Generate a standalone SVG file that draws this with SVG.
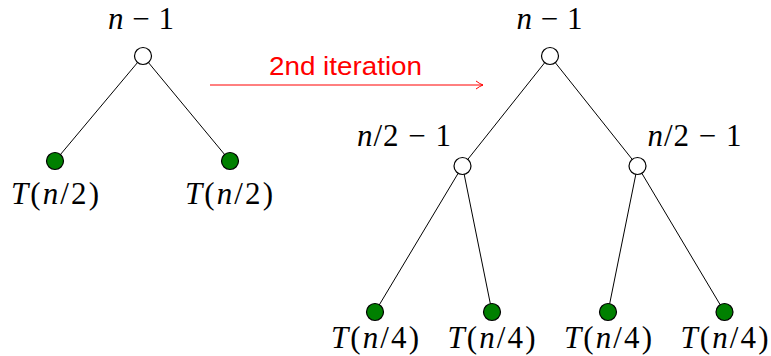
<svg xmlns="http://www.w3.org/2000/svg" width="771" height="356" viewBox="0 0 771 356">
<defs>
<style>
.edge{stroke:#000;stroke-width:1;fill:none}
.inner{fill:#fff;stroke:#000;stroke-width:1.2}
.leaf{fill:#008000;stroke:#000;stroke-width:1.2}
.lbl{font-family:'Liberation Serif',serif;font-size:31px;fill:#000;text-anchor:middle}
.it{font-style:italic}
.red{font-family:'Liberation Sans',sans-serif;font-size:25px;fill:#ff0000;text-anchor:middle}
</style>
<marker id="arr" viewBox="0 0 10 10" refX="9" refY="5" markerWidth="10" markerHeight="10" markerUnits="userSpaceOnUse" orient="auto">
<path d="M2,1 Q6,4 9,5 Q6,6 2,9" fill="none" stroke="#ff0000" stroke-width="1"/>
</marker>
</defs>
<g id="connectors">
<line class="edge" x1="143" y1="56" x2="55" y2="161"/>
<line class="edge" x1="143" y1="56" x2="230" y2="161"/>
<line class="edge" x1="550" y1="56" x2="462.5" y2="166"/>
<line class="edge" x1="550" y1="56" x2="637.5" y2="166"/>
<line class="edge" x1="462.5" y1="166" x2="375" y2="312"/>
<line class="edge" x1="462.5" y1="166" x2="492" y2="312"/>
<line class="edge" x1="637.5" y1="166" x2="608" y2="312"/>
<line class="edge" x1="637.5" y1="166" x2="724.5" y2="312"/>
<line id="iter-arrow" x1="210" y1="85" x2="483" y2="85" stroke="#ff0000" stroke-width="1" marker-end="url(#arr)"/>
<text class="red" x="345.5" y="75" textLength="153" lengthAdjust="spacingAndGlyphs">2nd iteration</text>
</g>
<g id="L-root">
<circle class="inner" cx="143" cy="56" r="8.5"/>
<text class="lbl" x="141" y="29" textLength="66" lengthAdjust="spacing"><tspan class="it">n</tspan> − 1</text>
</g>
<g id="L-leaf1">
<circle class="leaf" cx="55" cy="161" r="8.5"/>
<text class="lbl" x="55" y="204" textLength="88" lengthAdjust="spacing"><tspan class="it">T</tspan>(<tspan class="it">n</tspan>/2)</text>
</g>
<g id="L-leaf2">
<circle class="leaf" cx="230" cy="161" r="8.5"/>
<text class="lbl" x="229" y="204" textLength="88" lengthAdjust="spacing"><tspan class="it">T</tspan>(<tspan class="it">n</tspan>/2)</text>
</g>
<g id="R-root">
<circle class="inner" cx="550" cy="56" r="8.5"/>
<text class="lbl" x="549.5" y="29" textLength="66" lengthAdjust="spacing"><tspan class="it">n</tspan> − 1</text>
</g>
<g id="R-left">
<circle class="inner" cx="462.5" cy="166" r="8.5"/>
<text class="lbl" x="404" y="146" textLength="94" lengthAdjust="spacing"><tspan class="it">n</tspan>/2 − 1</text>
</g>
<g id="R-right">
<circle class="inner" cx="637.5" cy="166" r="8.5"/>
<text class="lbl" x="694.5" y="146" textLength="94" lengthAdjust="spacing"><tspan class="it">n</tspan>/2 − 1</text>
</g>
<g id="R-leaf1">
<circle class="leaf" cx="375" cy="312" r="8.5"/>
<text class="lbl" x="375" y="348" textLength="88" lengthAdjust="spacing"><tspan class="it">T</tspan>(<tspan class="it">n</tspan>/4)</text>
</g>
<g id="R-leaf2">
<circle class="leaf" cx="492" cy="312" r="8.5"/>
<text class="lbl" x="491.5" y="348" textLength="88" lengthAdjust="spacing"><tspan class="it">T</tspan>(<tspan class="it">n</tspan>/4)</text>
</g>
<g id="R-leaf3">
<circle class="leaf" cx="608" cy="312" r="8.5"/>
<text class="lbl" x="608" y="348" textLength="88" lengthAdjust="spacing"><tspan class="it">T</tspan>(<tspan class="it">n</tspan>/4)</text>
</g>
<g id="R-leaf4">
<circle class="leaf" cx="724.5" cy="312" r="8.5"/>
<text class="lbl" x="724.5" y="348" textLength="88" lengthAdjust="spacing"><tspan class="it">T</tspan>(<tspan class="it">n</tspan>/4)</text>
</g>
</svg>
